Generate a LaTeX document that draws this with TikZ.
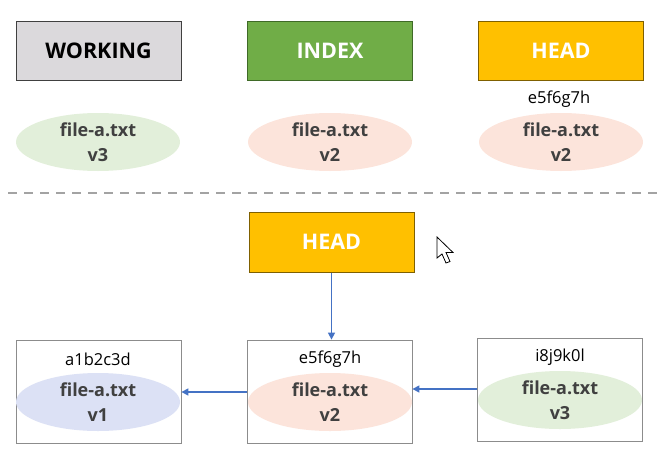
\documentclass[tikz,border=0pt]{standalone}
\usepackage{fontspec}
\setmainfont{Open Sans}
\usetikzlibrary{arrows.meta}
\definecolor{wfill}{HTML}{DBD9DC}
\definecolor{wline}{HTML}{404040}
\definecolor{ifill}{HTML}{70AD47}
\definecolor{iline}{HTML}{3F6A27}
\definecolor{hfill}{HTML}{FFC000}
\definecolor{hline}{HTML}{7F6000}
\definecolor{egreen}{HTML}{E2EFDA}
\definecolor{epink}{HTML}{FCE4DB}
\definecolor{eblue}{HTML}{DCE1F5}
\definecolor{etext}{HTML}{404040}
\definecolor{arr}{HTML}{4472C4}
\definecolor{cline}{HTML}{8C8C8C}
\tikzset{
  area/.style={draw=#1, line width=1pt, minimum width=165pt, minimum height=59pt, inner sep=0pt, font=\fontsize{21.5}{24}\selectfont\bfseries},
  filebox/.style={draw=cline, line width=0.8pt, fill=white, minimum width=165pt, minimum height=103pt, inner sep=0pt},
  fileell/.style={ellipse, fill=#1, minimum width=164pt, minimum height=58pt, inner sep=0pt, text=etext, font=\fontsize{18}{25}\selectfont\bfseries, align=center},
  hashlbl/.style={font=\fontsize{16.5}{18}\selectfont, text=black, inner sep=0pt},
  link/.style={draw=arr, line width=1.5pt, -{Triangle[length=7pt,width=7pt]}},
}
\usetikzlibrary{shapes.geometric}
\begin{document}
\begin{tikzpicture}[x=1pt,y=-1pt]
\useasboundingbox (0,0) rectangle (658,458);
% top row
\node[area=wline, fill=wfill, text=black] (working) at (98.5,50.5) {WORKING};
\node[area=iline, fill=ifill, text=white] (index) at (330,50.5) {INDEX};
\node[area=hline, fill=hfill, text=white] (head) at (561,50.5) {HEAD};
\node[hashlbl] (headhash) at (559,99) {e5f6g7h};
\node[fileell=egreen] (wfile) at (98,142) {file-a.txt\\v3};
\node[fileell=epink] (ifile) at (330,142) {file-a.txt\\v2};
\node[fileell=epink] (hfile) at (561,142) {file-a.txt\\v2};
% separator
\coordinate (sepL) at (8,193);
\coordinate (sepR) at (658,193);
\draw[cline!80, line width=2pt, dash pattern=on 9pt off 7pt] (sepL) -- (sepR);
% bottom
\node[area=hline, fill=hfill, text=white, minimum height=60pt] (head2) at (331.5,242) {HEAD};
\node[filebox] (c1) at (98.5,391.5) {};
\node[filebox] (c2) at (329.5,391.5) {};
\node[filebox] (c3) at (560,389.5) {};
\node[hashlbl] (h1) at (98,359) {a1b2c3d};
\node[hashlbl] (h2) at (330,359) {e5f6g7h};
\node[hashlbl] (h3) at (560,357) {i8j9k0l};
\node[fileell=eblue] (f1) at (98,402) {file-a.txt\\v1};
\node[fileell=epink] (f2) at (330,402) {file-a.txt\\v2};
\node[fileell=egreen] (f3) at (560,400) {file-a.txt\\v3};
% connectors
\draw[link] (head2.south) -- (head2.south |- c2.north);
\draw[link] (c3.west |- 0,389) -- (c2.east |- 0,389);
\draw[link] (c2.west |- 0,392) -- (c1.east |- 0,392);
% mouse cursor
\draw[black, fill=white, line width=0.8pt, line join=miter]
  (437,237) -- (437,258) -- (442,254) -- (446,263) -- (450,261.5) -- (446,252.5) -- (453,252.5) -- cycle;
\end{tikzpicture}
\end{document}
